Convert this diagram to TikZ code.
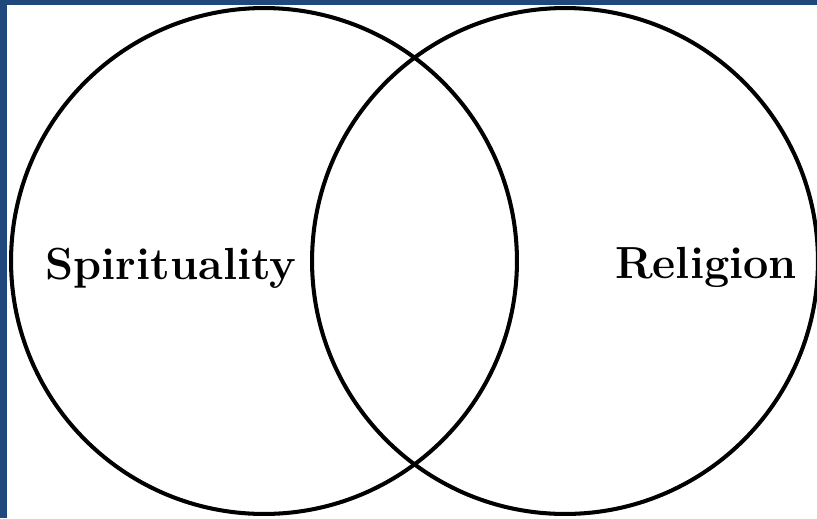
\documentclass[tikz,border=0pt]{standalone}
\usepackage{tikz}
\usetikzlibrary{
    positioning,
    backgrounds
}

\definecolor{framebl}{RGB}{31,73,125}

\begin{document}
\begin{tikzpicture}[
    x=0.02cm,
    y=-0.02cm,
    venn/.style={
        circle,
        draw=black,
        line width=2.3pt,
        minimum size=10.12cm,
        inner sep=0pt
    },
    every node/.style={
        font=\fontsize{25.6pt}{30pt}\selectfont\bfseries
    }
]

    % -------------------------------------------------------
    % Page and frame
    % -------------------------------------------------------
    \useasboundingbox (0,0) rectangle (817,518);
    \fill[white] (0,0) rectangle (817,518);
    \fill[framebl] (0,0) rectangle (7,518);
    \fill[framebl] (0,0) rectangle (817,5);

    % -------------------------------------------------------
    % The two sets
    % -------------------------------------------------------
    \node[venn] (spiritcirc) at (264,261) {};
    \node[venn] (religcirc)  at (565,261) {};

    % -------------------------------------------------------
    % Labels
    % -------------------------------------------------------
    \node[anchor=base] (spiritlabel) at (171,279) {Spirituality};
    \node[anchor=base] (religlabel)  at (706,278) {Religion};

\end{tikzpicture}
\end{document}
